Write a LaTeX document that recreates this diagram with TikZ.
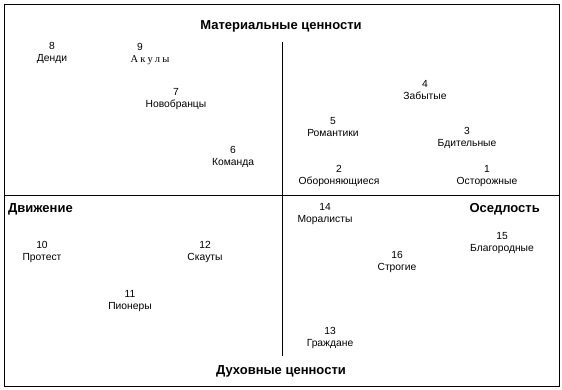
\documentclass[tikz,border=0pt]{standalone}
\usepackage{fontspec}
\setmainfont{Liberation Sans}
\newfontfamily\serifacc{Liberation Serif}
\begin{document}
\begin{tikzpicture}[x=1pt,y=-1pt,
  frame/.style={draw=black,line width=0.9pt},
  axis/.style={draw=black,line width=0.9pt},
  title/.style={font=\fontsize{13}{15}\selectfont\bfseries,inner sep=0pt},
  item/.style={font=\fontsize{10.3}{12}\selectfont,align=center,inner sep=0pt}]
\useasboundingbox (0,0) rectangle (562,390);
\fill[white] (0,0) rectangle (562,390);
\draw[frame] (4.5,4.5) rectangle (559,386.5);
\coordinate (hl) at (4.5,195);
\coordinate (hr) at (559,195);
\coordinate (vt) at (282,42);
\coordinate (vb) at (282,356);
\draw[axis] (hl) -- (hr);
\draw[axis] (vt) -- (vb);
\node[title] (mat) at (281,26) {Материальные ценности};
\node[title] (duh) at (281,371) {Духовные ценности};
\node[title,anchor=west] (dv) at (8,209) {Движение};
\node[title,anchor=east] (os) at (540,209) {Оседлость};
\node[item] (n8) at (52,52.5) {8\\Денди};
\node[item] (n9) at (140,46.5) {9};
\node[item,font=\fontsize{10.5}{12}\selectfont\serifacc\addfontfeature{LetterSpace=22}] (n9l) at (150,60) {Акулы};
\node[item] (n7) at (176,99) {7\\Новобранцы};
\node[item] (n6) at (233,157) {6\\Команда};
\node[item] (n4) at (425,90) {4\\Забытые};
\node[item] (n5) at (333,127) {5\\Романтики};
\node[item] (n3) at (467,137.5) {3\\Бдительные};
\node[item] (n2) at (339,176) {2\\Обороняющиеся};
\node[item] (n1) at (487,176) {1\\Осторожные};
\node[item] (n14) at (325,214) {14\\Моралисты};
\node[item] (n15) at (502,243) {15\\Благородные};
\node[item] (n16) at (397,262) {16\\Строгие};
\node[item] (n13) at (330,338) {13\\Граждане};
\node[item] (n10) at (42,252) {10\\Протест};
\node[item] (n12) at (205,252) {12\\Скауты};
\node[item] (n11) at (130,301) {11\\Пионеры};
\end{tikzpicture}
\end{document}
